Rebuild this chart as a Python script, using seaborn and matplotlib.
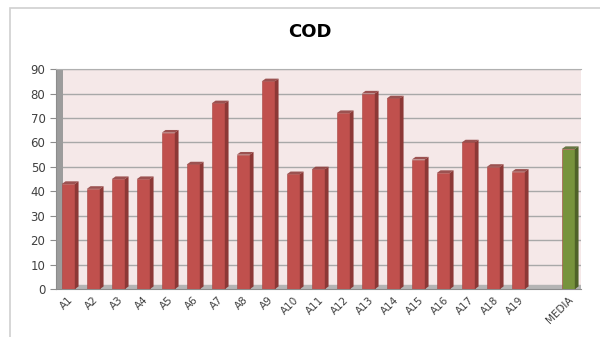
import pandas as pd
import matplotlib.pyplot as plt
import seaborn as sns
from matplotlib.patches import Polygon, Rectangle

# Data
categories = ["A1", "A2", "A3", "A4", "A5", "A6", "A7", "A8", "A9", "A10",
              "A11", "A12", "A13", "A14", "A15", "A16", "A17", "A18", "A19", "", "MEDIA"]
values = [43, 41, 45, 45, 64, 51, 76, 55, 85, 47,
          49, 72, 80, 78, 53, 47.5, 60, 50, 48, 0, 57.3]
bar_colors = ["#c0504d"] * 19 + ["#c0504d", "#77933c"]
side_colors = ["#8c3836"] * 19 + ["#8c3836", "#4f6228"]

df = pd.DataFrame({"cat": categories, "val": values})

sns.set_style("white")
plt.rcParams['font.family'] = ['DejaVu Sans']

fig = plt.figure(figsize=(6, 3.37), dpi=100)
ax = fig.add_axes([0.093, 0.142, 0.875, 0.653])

sns.barplot(data=df, x="cat", y="val", hue="cat", palette=bar_colors,
            legend=False, width=0.52, saturation=1, ax=ax, zorder=3)

# fake 3D depth on each bar, derived from the drawn patches
dx, dy = 0.15, 1.1
for p, sc in zip(ax.patches, side_colors):
    x0, w, h = p.get_x(), p.get_width(), p.get_height()
    if h <= 0:
        p.set_visible(False)
        continue
    p.set_edgecolor("#a64440")
    p.set_linewidth(0.4)
    side = Polygon([(x0 + w, 0), (x0 + w + dx, dy), (x0 + w + dx, h + dy), (x0 + w, h)],
                   closed=True, facecolor=sc, edgecolor="none", zorder=3)
    top = Polygon([(x0, h), (x0 + dx, h + dy), (x0 + w + dx, h + dy), (x0 + w, h)],
                  closed=True, facecolor=sc, edgecolor="none", alpha=0.85, zorder=3)
    ax.add_patch(side)
    ax.add_patch(top)

ax.set_facecolor("#f5e8e8")
ax.set_ylim(0, 90)
ax.set_xlim(-0.5, len(categories) - 0.5)
ax.set_yticks(range(0, 91, 10))
ax.yaxis.grid(True, color="#a8a8a8", linewidth=1.0, zorder=0)
ax.set_axisbelow(True)

# floor and left wall
ax.axhspan(0, 1.6, color="#b4b4b4", zorder=1)
ax.add_patch(Rectangle((0, 0), 0.013, 1, transform=ax.transAxes,
                       facecolor="#9c9c9c", edgecolor="none", zorder=1))

ax.spines["right"].set_visible(False)
ax.spines["top"].set_color("#b0b0b0")
ax.spines["left"].set_color("#8c8c8c")
ax.spines["bottom"].set_color("#8c8c8c")

ax.set_xticks([i - 0.5 for i in range(len(categories) + 1)], minor=False)
ax.set_xticklabels([])
ax.set_xticks(range(len(categories)), minor=True)
ax.set_xticklabels(categories, minor=True, rotation=45, ha="right",
                   rotation_mode="anchor", fontsize=7.5, color="#404040")
ax.tick_params(axis="x", which="major", length=4, color="#8c8c8c", direction="out")
ax.tick_params(axis="x", which="minor", length=0, pad=4)
ax.tick_params(axis="y", length=4, color="#8c8c8c", labelsize=8.5, labelcolor="#404040", left=True)

ax.set_xlabel("")
ax.set_ylabel("")

fig.text(0.517, 0.905, "COD", ha="center", va="center", fontsize=13,
         fontweight="bold", color="black")

# outer chart frame
fig.add_artist(Rectangle((0.017, -0.01), 1.0, 0.985, transform=fig.transFigure,
                         facecolor="none", edgecolor="#d0d0d0", linewidth=1.2))

fig.savefig("out.png", dpi=100)
